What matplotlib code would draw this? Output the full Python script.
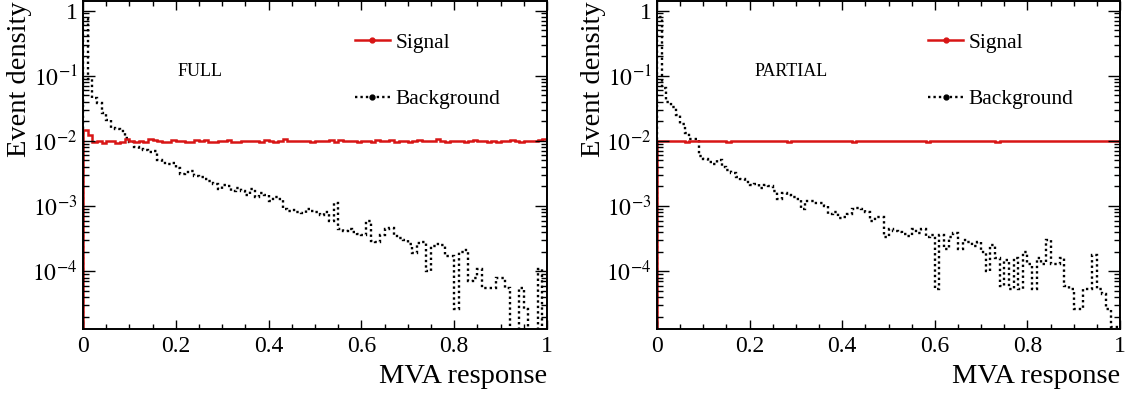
import numpy as np
import matplotlib
matplotlib.use("Agg")
import matplotlib.pyplot as plt
from matplotlib.lines import Line2D
from matplotlib.ticker import LogLocator, MultipleLocator, FuncFormatter

plt.rcParams['font.family'] = ['Liberation Serif', 'DejaVu Serif']
plt.rcParams['mathtext.fontset'] = 'stix'

# 100 bins on [0, 1]
edges = np.linspace(0.0, 1.0, 101)

sig_full = [
    0.0146, 0.0123, 0.0095, 0.0098, 0.0093, 0.0100, 0.0099, 0.0093, 0.0097, 0.0105,
    0.0100, 0.0096, 0.0101, 0.0097, 0.0105, 0.0103, 0.0100, 0.0096, 0.0096, 0.0103,
    0.0099, 0.0100, 0.0097, 0.0096, 0.0104, 0.0099, 0.0102, 0.0096, 0.0095, 0.0101,
    0.0099, 0.0103, 0.0096, 0.0096, 0.0101, 0.0099, 0.0100, 0.0098, 0.0095, 0.0103,
    0.0101, 0.0097, 0.0100, 0.0105, 0.0099, 0.0098, 0.0100, 0.0099, 0.0101, 0.0097,
    0.0101, 0.0100, 0.0098, 0.0103, 0.0097, 0.0104, 0.0100, 0.0101, 0.0098, 0.0096,
    0.0099, 0.0101, 0.0097, 0.0104, 0.0100, 0.0098, 0.0102, 0.0095, 0.0099, 0.0101,
    0.0097, 0.0100, 0.0103, 0.0099, 0.0098, 0.0101, 0.0106, 0.0099, 0.0097, 0.0100,
    0.0101, 0.0098, 0.0096, 0.0100, 0.0102, 0.0099, 0.0101, 0.0097, 0.0100, 0.0096,
    0.0101, 0.0099, 0.0103, 0.0098, 0.0097, 0.0100, 0.0101, 0.0099, 0.0102, 0.0105,
]

bkg_full = [
    0.75, 0.09, 0.045, 0.038, 0.027, 0.021, 0.016, 0.015, 0.014, 0.011,
    0.0095, 0.0080, 0.0075, 0.0072, 0.0068, 0.0070, 0.0050, 0.0046, 0.0044, 0.0045,
    0.0038, 0.0031, 0.0033, 0.0034, 0.0029, 0.0028, 0.0026, 0.0024, 0.0022, 0.0018,
    0.0021, 0.0020, 0.0017, 0.0019, 0.0017, 0.0015, 0.0018, 0.0014, 0.0016, 0.0015,
    0.0012, 0.0014, 0.0013, 0.00090, 0.00085, 0.00088, 0.00080, 0.00078, 0.00090, 0.00085,
    0.00082, 0.00072, 0.00080, 0.00060, 0.0011, 0.00045, 0.00042, 0.00044, 0.00040, 0.00037,
    0.00036, 0.00058, 0.00029, 0.00028, 0.00036, 0.00044, 0.00046, 0.00035, 0.00032, 0.00030,
    0.00026, 0.00019, 0.00027, 0.00028, 0.00010, 0.00024, 0.00026, 0.00025, 0.00017, 0.00017,
    2.6e-5, 0.00020, 0.00021, 7e-5, 8e-5, 0.00011, 5.6e-5, 5.6e-5, 5.6e-5, 8e-5,
    8e-5, 5.6e-5, 0.0, 0.0, 5.6e-5, 2.6e-5, 0.0, 0.0, 0.00011, 0.0,
]

sig_part = [
    0.0099, 0.0099, 0.0098, 0.0099, 0.0098, 0.0099, 0.0097, 0.0099, 0.0098, 0.0099,
    0.0100, 0.0099, 0.0098, 0.0099, 0.0099, 0.0097, 0.0099, 0.0098, 0.0099, 0.0098,
    0.0099, 0.0098, 0.0100, 0.0099, 0.0098, 0.0099, 0.0098, 0.0099, 0.0097, 0.0099,
    0.0098, 0.0099, 0.0099, 0.0098, 0.0100, 0.0098, 0.0099, 0.0098, 0.0099, 0.0099,
    0.0098, 0.0099, 0.0097, 0.0099, 0.0098, 0.0099, 0.0100, 0.0098, 0.0099, 0.0098,
    0.0099, 0.0098, 0.0099, 0.0100, 0.0098, 0.0099, 0.0098, 0.0099, 0.0097, 0.0099,
    0.0099, 0.0098, 0.0099, 0.0098, 0.0100, 0.0099, 0.0098, 0.0099, 0.0098, 0.0099,
    0.0099, 0.0098, 0.0099, 0.0097, 0.0099, 0.0098, 0.0099, 0.0100, 0.0098, 0.0099,
    0.0098, 0.0099, 0.0099, 0.0098, 0.0099, 0.0098, 0.0100, 0.0099, 0.0098, 0.0099,
    0.0099, 0.0098, 0.0099, 0.0098, 0.0099, 0.0099, 0.0098, 0.0099, 0.0098, 0.0099,
]

bkg_part = [
    0.80, 0.065, 0.040, 0.033, 0.025, 0.018, 0.013, 0.0105, 0.0105, 0.0058,
    0.0052, 0.0048, 0.0044, 0.0050, 0.0040, 0.0036, 0.0032, 0.0028, 0.0026, 0.0023,
    0.0021, 0.0022, 0.0019, 0.0021, 0.0020, 0.0017, 0.0013, 0.0016, 0.0015, 0.0014,
    0.0013, 0.00090, 0.0012, 0.0012, 0.0011, 0.0011, 0.0010, 0.00075, 0.00080, 0.00065,
    0.00068, 0.00075, 0.00090, 0.00095, 0.00090, 0.00080, 0.00058, 0.00068, 0.00068, 0.00034,
    0.00044, 0.00042, 0.00040, 0.00037, 0.00035, 0.00045, 0.00038, 0.00045, 0.00034, 0.00036,
    5.3e-5, 0.00036, 0.00022, 0.00034, 0.00038, 0.00022, 0.00030, 0.00028, 0.00024, 0.00028,
    0.00020, 0.00010, 0.00025, 0.00016, 6e-5, 0.00015, 5.3e-5, 0.00016, 5.3e-5, 0.00020,
    0.00013, 5.3e-5, 0.00016, 0.00013, 0.00030, 0.00013, 0.00013, 0.00016, 6e-5, 5.3e-5,
    2.6e-5, 2.6e-5, 5.3e-5, 5.3e-5, 0.00018, 5.3e-5, 4.5e-5, 2.6e-5, 1.4e-5, 1.4e-5,
]

panels = [("FULL", 0.252, sig_full, bkg_full), ("PARTIAL", 0.289, sig_part, bkg_part)]

RED = '#d81515'
DOTS = (0, (1.0, 1.3))


def ylab(v, pos):
    if abs(v - 1.0) < 1e-9:
        return '1'
    return r'$10^{%d}$' % int(round(np.log10(v)))


def draw(ax, tag, tag_x, sig, bkg):
    s = np.where(np.array(sig) > 0, sig, 1e-9)
    b = np.where(np.array(bkg) > 0, bkg, 1e-9)
    ax.stairs(b, edges, baseline=1e-9, color='black', lw=1.7, linestyle=DOTS)
    ax.stairs(s, edges, baseline=1e-9, color=RED, lw=1.8)

    ax.set_yscale('log')
    ax.set_xlim(0, 1)
    ax.set_ylim(1.3e-5, 1.4)

    ax.xaxis.set_major_locator(MultipleLocator(0.2))
    ax.xaxis.set_minor_locator(MultipleLocator(0.05))
    ax.xaxis.set_major_formatter(FuncFormatter(lambda v, p: '%g' % v))
    ax.yaxis.set_major_locator(LogLocator(base=10, numticks=10))
    ax.yaxis.set_minor_locator(LogLocator(base=10, subs=np.arange(2, 10), numticks=20))
    ax.yaxis.set_major_formatter(FuncFormatter(ylab))

    ax.tick_params(which='both', direction='in', top=True, right=True, width=1.0,
                   labelsize=17)
    ax.tick_params(axis='x', which='major', length=6.5, pad=5)
    ax.tick_params(axis='x', which='minor', length=3.3)
    ax.tick_params(axis='y', which='major', length=8.5, pad=4)
    ax.tick_params(axis='y', which='minor', length=4.3)
    for sp in ax.spines.values():
        sp.set_linewidth(1.4)

    ax.set_xlabel('MVA response', fontsize=20.5, loc='right', labelpad=5)
    ax.set_ylabel('Event density', fontsize=20.5, loc='top', labelpad=0)

    ax.text(tag_x, 0.785, tag, transform=ax.transAxes,
            fontsize=13, ha='center', va='center')

    handles = [
        Line2D([], [], color=RED, lw=1.8, marker='o', markersize=3.5),
        Line2D([], [], color='black', lw=1.7, linestyle=DOTS, marker='o', markersize=3.5),
    ]
    ax.legend(handles, ['Signal', 'Background'], loc='upper left',
              bbox_to_anchor=(0.586, 0.903), frameon=False, fontsize=15.5,
              handlelength=1.63, handletextpad=0.25, labelspacing=1.68,
              borderaxespad=0, borderpad=0)


fig = plt.figure(figsize=(11.34, 3.94), dpi=100)
ax1 = fig.add_axes([0.0732, 0.165, 0.4092, 0.8325])
ax2 = fig.add_axes([0.5794, 0.165, 0.4083, 0.8325])
for ax, (tag, tag_x, sig, bkg) in zip([ax1, ax2], panels):
    draw(ax, tag, tag_x, sig, bkg)

fig.savefig('out.png', dpi=100)
